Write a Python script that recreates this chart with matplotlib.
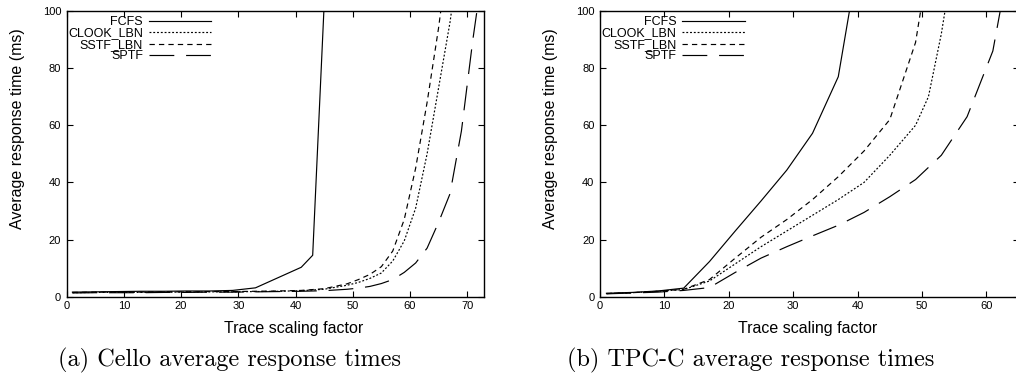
import matplotlib
matplotlib.use('Agg')
import matplotlib.pyplot as plt

plt.rcParams['font.family'] = ['Liberation Sans', 'DejaVu Sans']

series_labels = ['FCFS', 'CLOOK_LBN', 'SSTF_LBN', 'SPTF']

# ---- (a) Cello ----
cello_fcfs_x = [1, 5, 9, 13, 17, 21, 25, 29, 33, 37, 41, 43, 45]
cello_fcfs_y = [1.6, 1.7, 1.8, 1.9, 1.9, 2.0, 2.0, 2.2, 3.1, 6.7, 10.3, 14.5, 102]

cello_clook_x = [1, 5, 9, 13, 17, 21, 25, 29, 33, 37, 41, 45, 49, 51, 53, 55, 57, 59, 61, 63, 65, 67, 69]
cello_clook_y = [1.4, 1.5, 1.5, 1.5, 1.6, 1.6, 1.7, 1.7, 1.8, 1.9, 2.1, 2.6, 4.0, 5.0, 6.4, 8.3, 12.5, 19.5, 31, 50, 73, 96, 125]

cello_sstf_x = [1, 5, 9, 13, 17, 21, 25, 29, 33, 37, 41, 45, 49, 51, 53, 55, 57, 59, 61, 63, 65, 67]
cello_sstf_y = [1.5, 1.6, 1.6, 1.6, 1.7, 1.7, 1.8, 1.8, 1.9, 2.0, 2.2, 2.8, 4.5, 6.0, 7.8, 10.5, 16, 27, 45, 68, 94, 125]

cello_sptf_x = [1, 5, 9, 13, 17, 21, 25, 29, 33, 37, 41, 45, 49, 51, 53, 55, 57, 59, 61, 63, 65, 67, 69, 71, 73]
cello_sptf_y = [1.3, 1.4, 1.4, 1.4, 1.5, 1.5, 1.6, 1.6, 1.7, 1.8, 1.9, 2.1, 2.6, 3.0, 3.6, 4.6, 6.0, 8.5, 11.8, 17, 26, 36, 58, 90, 118]

# ---- (b) TPC-C ----
tpcc_fcfs_x = [1, 5, 9, 13, 17, 21, 25, 29, 33, 37, 41]
tpcc_fcfs_y = [1.2, 1.5, 2.0, 3.0, 12.3, 23, 33.5, 44.3, 57.2, 77, 130]

tpcc_clook_x = [1, 5, 9, 13, 17, 21, 25, 29, 33, 37, 41, 45, 49, 51, 53, 55]
tpcc_clook_y = [1.1, 1.4, 1.9, 2.5, 5.5, 11.5, 17.5, 23, 28.5, 34, 40, 49.5, 60, 70, 92, 120]

tpcc_sstf_x = [1, 5, 9, 13, 17, 21, 25, 29, 33, 37, 41, 45, 49, 53]
tpcc_sstf_y = [1.1, 1.4, 1.9, 2.6, 6.0, 13.5, 20.8, 27, 34, 42, 51, 62, 89, 145]

tpcc_sptf_x = [1, 5, 9, 13, 17, 21, 25, 29, 33, 37, 41, 45, 49, 53, 57, 61, 65]
tpcc_sptf_y = [1.0, 1.3, 1.6, 2.2, 3.2, 8.5, 13.5, 17.5, 21.3, 25, 29.5, 35, 41, 49.5, 63, 86, 135]

x_ticks_a = [0, 10, 20, 30, 40, 50, 60, 70]
x_ticks_b = [0, 10, 20, 30, 40, 50, 60]
y_ticks = [0, 20, 40, 60, 80, 100]

captions = ['(a) Cello average response times', '(b) TPC-C average response times']

styles = ['-', (0, (1.6, 1.6)), (0, (4.5, 3.5)), (0, (21, 10))]

W, H = 1016, 384
fig = plt.figure(figsize=(W / 100, H / 100), dpi=100)
ax1 = fig.add_axes([66.7 / W, 1 - 296.7 / H, 417.6 / W, 285.7 / H])
ax2 = fig.add_axes([600 / W, 1 - 296.7 / H, 418.6 / W, 285.7 / H])

data_a = [(cello_fcfs_x, cello_fcfs_y), (cello_clook_x, cello_clook_y),
          (cello_sstf_x, cello_sstf_y), (cello_sptf_x, cello_sptf_y)]
data_b = [(tpcc_fcfs_x, tpcc_fcfs_y), (tpcc_clook_x, tpcc_clook_y),
          (tpcc_sstf_x, tpcc_sstf_y), (tpcc_sptf_x, tpcc_sptf_y)]

configs = [
    (ax1, data_a, x_ticks_a, 73, 0.544, 0.346),
    (ax2, data_b, x_ticks_b, 65, 0.497, 0.346),
]

for ax, data, xt, xmax, xlab_x, leg_x in configs:
    for (xs, ys), lab, ls in zip(data, series_labels, styles):
        ax.plot(xs, ys, color='black', lw=0.85, linestyle=ls, label=lab)
    ax.set_xlim(0, xmax)
    ax.set_ylim(0, 100)
    ax.set_xticks(xt)
    ax.set_yticks(y_ticks)
    ax.tick_params(direction='in', top=True, right=True, length=4, width=0.8,
                   labelsize=8, color='black')
    ax.tick_params(axis='x', pad=3)
    ax.tick_params(axis='y', pad=4)
    for s in ax.spines.values():
        s.set_linewidth(1.0)
    ax.set_xlabel('Trace scaling factor', fontsize=11.5, va='center')
    ax.xaxis.set_label_coords(xlab_x, -0.110)
    ax.set_ylabel('Average response time (ms)', fontsize=11.5, va='center')
    ax.yaxis.set_label_coords(-0.118, 0.587)
    ax.legend(loc='upper right', bbox_to_anchor=(leg_x, 0.982), frameon=False,
              markerfirst=False, handlelength=5.0, handletextpad=0.45,
              labelspacing=-0.05, borderpad=0, borderaxespad=0, fontsize=9)

fig.text(58 / W, 1 - 366 / H, captions[0], fontfamily='cmr10', fontsize=17.5, va='baseline')
fig.text(567 / W, 1 - 366 / H, captions[1], fontfamily='cmr10', fontsize=17.5, va='baseline')

fig.savefig('out.png', dpi=100)
